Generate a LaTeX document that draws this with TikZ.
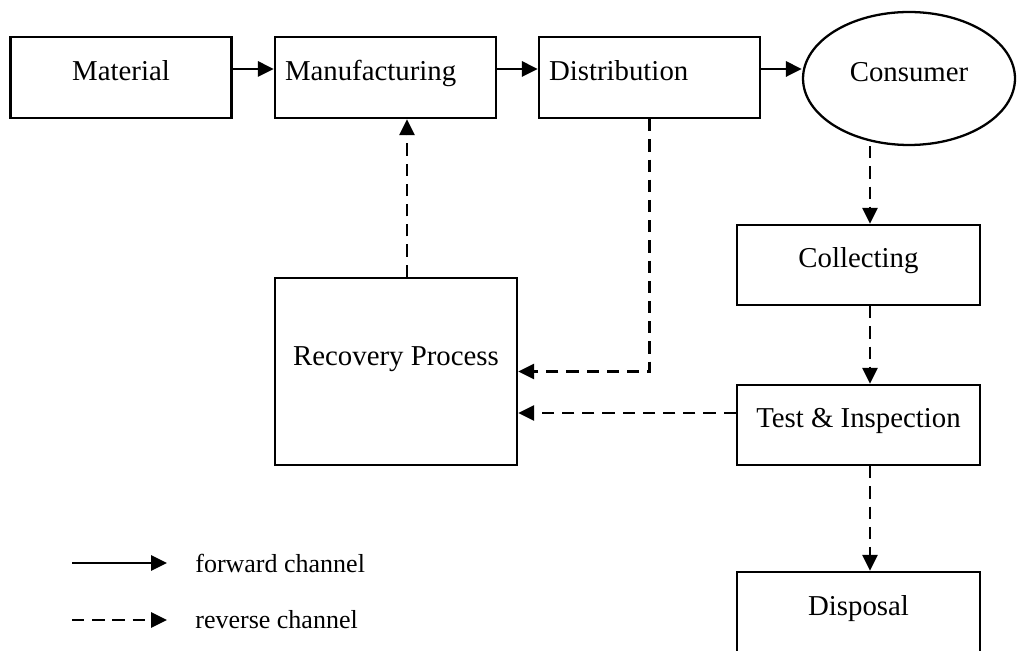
\documentclass[tikz,border=0pt]{standalone}
\usepackage{fontspec}
\setmainfont{Liberation Serif}
\usetikzlibrary{arrows.meta,shapes.geometric}

\begin{document}
\begin{tikzpicture}[
  x=0.02cm, y=-0.02cm,
  font=\fontsize{16.4}{19}\selectfont,
  box/.style={draw, rectangle, line width=1.3pt, inner sep=0pt, text height=0.7em, text depth=0.4em},
  lbox/.style={box, inner xsep=0.2cm, text width=4.02cm, align=left, minimum width=4.42cm, minimum height=1.62cm},
  fwd/.style={line width=1.7pt, -{Triangle[length=0.32cm, width=0.3cm]}},
  rev/.style={fwd, line width=1.5pt, dash pattern=on 7pt off 4.5pt},
  legtext/.style={anchor=west, inner sep=0pt, font=\fontsize{14.8}{18}\selectfont},
]
\clip (0,0) rectangle (1017,651);

% ── forward row ──
\node[box, minimum width=4.42cm, minimum height=1.62cm] (mat) at (121,77.5) {Material};
\node[lbox] (man) at (385.5,77.5) {Manufacturing};
\node[lbox] (dis) at (649.5,77.5) {Distribution};
\node[box, ellipse, minimum width=4.24cm, minimum height=2.66cm] (con) at (909,78.5) {Consumer};

% ── reverse side ──
\node[box, minimum width=4.84cm, minimum height=3.74cm, text depth=1.34em] (rec) at (396,371.5) {Recovery Process};
\node[box, minimum width=4.86cm, minimum height=1.6cm] (col) at (858.5,265) {Collecting};
\node[box, minimum width=4.86cm, minimum height=1.6cm] (tes) at (858.5,425) {Test \& Inspection};
\node[box, minimum width=4.86cm, minimum height=1.62cm] (dsp) at (858.5,612.5) {Disposal};

% ── connectors ──
\coordinate (fy) at (0,69);
\coordinate (rx) at (407,0);
\coordinate (cx) at (870,0);
\coordinate (ty) at (0,413);
\draw[fwd] (mat.east |- fy) -- (man.west |- fy);
\draw[fwd] (man.east |- fy) -- (dis.west |- fy);
\draw[fwd] (dis.east |- fy) -- (con.west |- fy);
\draw[rev] (rec.north -| rx) -- (man.south -| rx);
\draw[rev] (dis.south) |- (rec.east);
\draw[rev] (tes.west |- ty) -- (rec.east |- ty);
\draw[rev] (con.south -| cx) -- (col.north -| cx);
\draw[rev] (col.south -| cx) -- (tes.north -| cx);
\draw[rev] (tes.south -| cx) -- (dsp.north -| cx);

% ── legend ──
\coordinate (fa) at (72,563);
\coordinate (fb) at (167,563);
\coordinate (ra) at (72,620);
\coordinate (rb) at (167,620);
\draw[fwd] (fa) -- (fb);
\draw[rev] (ra) -- (rb);
\node[legtext] (fl) at (195,563) {forward channel};
\node[legtext] (rl) at (195,620) {reverse channel};

\end{tikzpicture}
\end{document}
